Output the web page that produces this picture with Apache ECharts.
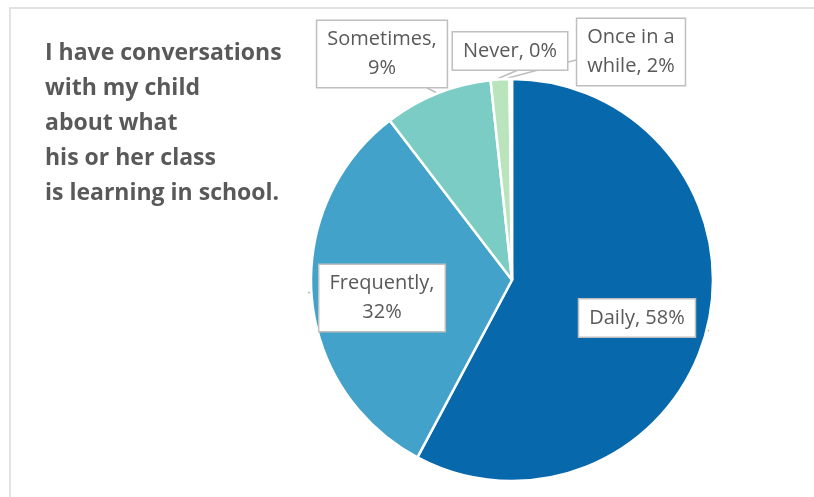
<!DOCTYPE html>
<html><head><meta charset="utf-8">
<script src="https://cdn.jsdelivr.net/npm/echarts@6/dist/echarts.min.js"></script>
<style>html,body{margin:0;padding:0;background:#fff}#c{width:814px;height:497px}</style>
</head><body><div id="c"></div>
<script>
const categories = ['Daily', 'Frequently', 'Sometimes', 'Once in a while', 'Never'];
const values = [57.8, 31.8, 8.7, 1.5, 0.2];
const labelTexts = ['Daily, 58%', 'Frequently,\n32%', 'Sometimes,\n9%', 'Once in a\nwhile, 2%', 'Never, 0%'];
const titleText = 'I have conversations\nwith my child\nabout what\nhis or her class\nis learning in school.';

const colors = ['#0868ac', '#43a2ca', '#7bccc4', '#bae4bc', '#f0f9e8'];
// label box centers and leader lines (layout only)
const labelPos = [
  {x: 637, y: 318, line: [[697, 324], [709, 331]]},
  {x: 382, y: 298, line: [[318, 289], [308, 293]]},
  {x: 382, y: 54, line: [[427, 88], [437, 93]]},
  {x: 631, y: 52, line: [[576, 60], [508, 78]]},
  {x: 510, y: 51, line: [[518, 70], [497, 79]]}
];

const chart = echarts.init(document.getElementById('c'));
chart.setOption({
  animation: false,
  color: colors,
  title: {
    text: titleText,
    left: 45, top: 36, padding: 0,
    textStyle: {fontFamily: 'Open Sans', fontWeight: 'bold', fontSize: 23, lineHeight: 35, color: '#595959'}
  },
  graphic: [{
    type: 'rect', z: -1, silent: true,
    shape: {x: 10, y: 8, width: 900, height: 600},
    style: {fill: 'none', stroke: '#d9d9d9', lineWidth: 1.5}
  }],
  series: [{
    type: 'pie',
    center: [512, 280],
    radius: 201,
    startAngle: 90,
    clockwise: true,
    avoidLabelOverlap: false,
    itemStyle: {borderColor: '#fff', borderWidth: 2.5},
    label: {
      show: true, position: 'outside',
      formatter: p => labelTexts[p.dataIndex],
      fontFamily: 'Open Sans', fontSize: 20, lineHeight: 29, color: '#595959',
      align: 'center',
      backgroundColor: '#fff', borderColor: '#bfbfbf', borderWidth: 1.5,
      padding: [4, 10, 4, 10]
    },
    labelLine: {show: true, lineStyle: {color: '#bfbfbf', width: 1.5}},
    labelLayout: function (params) {
      const lp = labelPos[params.dataIndex];
      return {x: lp.x, y: lp.y, align: 'center', verticalAlign: 'middle', labelLinePoints: lp.line};
    },
    data: categories.map((c, i) => ({name: c, value: values[i]}))
  }]
});
</script></body></html>
